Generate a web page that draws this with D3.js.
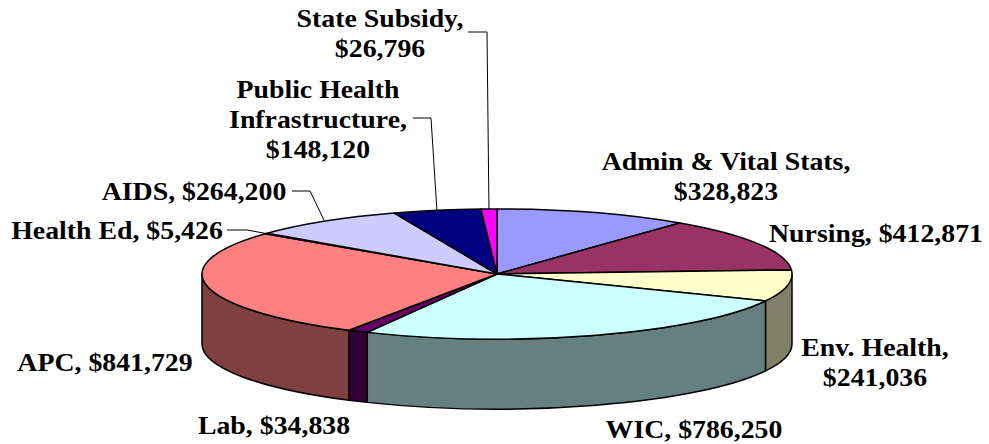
<!DOCTYPE html>
<html>
<head>
<meta charset="utf-8">
<script src="https://cdn.jsdelivr.net/npm/d3@7"></script>
<style>
  body { margin: 0; background: #fff; }
  text { font-family: "Liberation Serif", "Times New Roman", serif; font-weight: bold; fill: #000; }
</style>
</head>
<body>
<div id="chart"></div>
<script>
// data, clockwise from 12 o'clock
var categories = ['Admin & Vital Stats', 'Nursing', 'Env. Health', 'WIC', 'Lab', 'APC',
                  'Health Ed', 'AIDS', 'Public Health Infrastructure', 'State Subsidy'];
var values = [328823, 412871, 241036, 786250, 34838, 841729, 5426, 264200, 148120, 26796];
var colors = ['#9999ff', '#993366', '#ffffcc', '#ccffff', '#660066', '#ff8080',
              '#0066cc', '#ccccff', '#000080', '#ff00ff'];

// label text lines (name part), value added below
var labelLines = [
  ['Admin & Vital Stats,', '{v}'],
  ['Nursing, {v}'],
  ['Env. Health,', '{v}'],
  ['WIC, {v}'],
  ['Lab, {v}'],
  ['APC, {v}'],
  ['Health Ed, {v}'],
  ['AIDS, {v}'],
  ['Public Health', 'Infrastructure,', '{v}'],
  ['State Subsidy,', '{v}']
];
// label layout: center x, first line y, optional leader elbow
var labelLayout = [
  { x: 726, y: 161 },
  { x: 876, y: 233 },
  { x: 875, y: 347 },
  { x: 694, y: 429 },
  { x: 274, y: 425 },
  { x: 105, y: 362 },
  { x: 117, y: 230, lx: 227, ly: 230, ex: 247 },
  { x: 194, y: 191, lx: 292, ly: 191, ex: 310 },
  { x: 318, y: 89, lx: 413, ly: 118, ex: 431 },
  { x: 380, y: 18, lx: 468, ly: 32, ex: 487 }
];

var width = 989, height = 444;
var cx = 497, cy = 274, rx = 295, ry = 65, depth = 70;
var lineH = 30;

var svg = d3.select('#chart').append('svg')
  .attr('width', width)
  .attr('height', height);

var fmt = d3.format('$,');

var pie = d3.pie().sort(null).value(d => d)
  .startAngle(0).endAngle(2 * Math.PI);
var arcs = pie(values);

function pt(a, dy) {
  return [cx + rx * Math.sin(a), cy - ry * Math.cos(a) + (dy || 0)];
}

function shade(c) {
  var col = d3.rgb(c);
  return d3.rgb(col.r * 0.5, col.g * 0.5, col.b * 0.5).toString();
}

// side walls (front half only)
var sides = svg.append('g');
arcs.forEach((d, i) => {
  var s = Math.max(d.startAngle, Math.PI / 2),
      e = Math.min(d.endAngle, Math.PI * 1.5);
  if (e <= s) return;
  var p0 = pt(s), p1 = pt(e), p2 = pt(e, depth), p3 = pt(s, depth);
  var path = 'M' + p0 + 'A' + rx + ',' + ry + ' 0 0 1 ' + p1 +
    'L' + p2 + 'A' + rx + ',' + ry + ' 0 0 0 ' + p3 + 'Z';
  sides.append('path')
    .attr('d', path)
    .attr('fill', shade(colors[i]))
    .attr('stroke', '#000')
    .attr('stroke-width', 1.5)
    .attr('stroke-linejoin', 'round');
});

// top faces
var tops = svg.append('g');
arcs.forEach((d, i) => {
  var p0 = pt(d.startAngle), p1 = pt(d.endAngle);
  var large = (d.endAngle - d.startAngle) > Math.PI ? 1 : 0;
  tops.append('path')
    .attr('d', 'M' + cx + ',' + cy + 'L' + p0 + 'A' + rx + ',' + ry + ' 0 ' + large + ' 1 ' + p1 + 'Z')
    .attr('fill', colors[i])
    .attr('stroke', '#000')
    .attr('stroke-width', 1.5)
    .attr('stroke-linejoin', 'round');
});

// leader lines
arcs.forEach((d, i) => {
  var l = labelLayout[i];
  if (l.ex === undefined) return;
  var m = pt((d.startAngle + d.endAngle) / 2);
  svg.append('path')
    .attr('d', 'M' + l.lx + ',' + l.ly + 'L' + l.ex + ',' + l.ly + 'L' + m)
    .attr('fill', 'none')
    .attr('stroke', '#000')
    .attr('stroke-width', 1);
});

// labels
var labels = svg.append('g');
labelLines.forEach((lines, i) => {
  var l = labelLayout[i];
  var g = labels.append('g')
    .attr('transform', 'translate(' + l.x + ',' + l.y + ') scale(1.07,1)');
  lines.forEach((t, j) => {
    g.append('text')
      .attr('x', 0)
      .attr('y', j * lineH)
      .attr('dy', '0.35em')
      .attr('text-anchor', 'middle')
      .style('font-size', '26px')
      .text(t.replace('{v}', fmt(values[i])));
  });
});
</script>
</body>
</html>
